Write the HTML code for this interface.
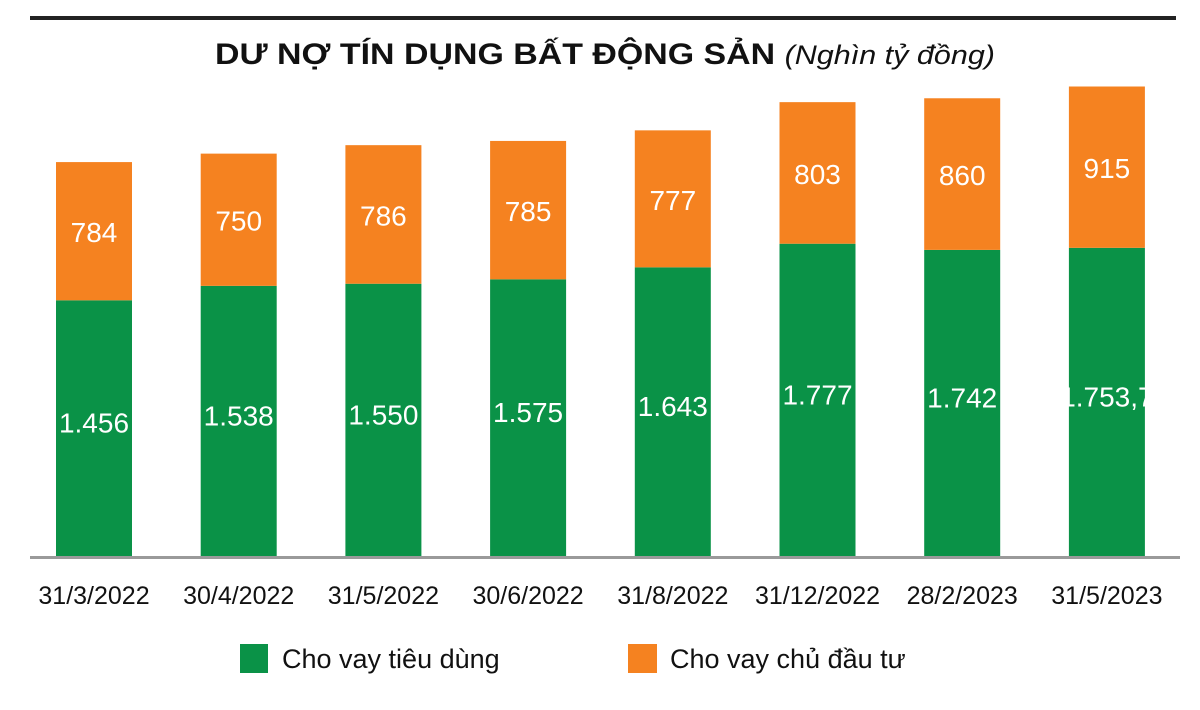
<!DOCTYPE html>
<html><head><meta charset="utf-8">
<style>
body{margin:0;background:#fff;width:1200px;height:705px;overflow:hidden;font-family:"Liberation Sans",sans-serif;}
</style></head>
<body>
<svg id="chart" width="1200" height="705" xmlns="http://www.w3.org/2000/svg">
<rect x="30" y="16" width="1146" height="4" fill="#222"/>
<text x="215" y="64" textLength="780" lengthAdjust="spacingAndGlyphs" font-family="Liberation Sans, sans-serif" font-size="30" font-weight="bold" fill="#111">DƯ NỢ TÍN DỤNG BẤT ĐỘNG SẢN <tspan font-weight="normal" font-style="italic" font-size="27">(Nghìn tỷ đồng)</tspan></text>
<g id="bars"></g>
<rect x="30" y="556" width="1150" height="3" fill="#9a9a9a"/>
<rect x="240" y="644" width="28" height="29" fill="#0a9247"/>
<text x="282" y="668" font-size="27" fill="#111">Cho vay tiêu dùng</text>
<rect x="628" y="644" width="29" height="29" fill="#f58220"/>
<text x="670" y="668" font-size="27" fill="#111">Cho vay chủ đầu tư</text>
</svg>
<script>
const categories=["31/3/2022","30/4/2022","31/5/2022","30/6/2022","31/8/2022","31/12/2022","28/2/2023","31/5/2023"];
const consumer=[1456,1538,1550,1575,1643,1777,1742,1753.7];
const developer=[784,750,786,785,777,803,860,915];
const consumerLabels=["1.456","1.538","1.550","1.575","1.643","1.777","1.742","1.753,7"];
const developerLabels=["784","750","786","785","777","803","860","915"];
const base=557, scale=0.1763, x0=94, step=144.7, bw=76;
const y=v=>base-v*scale;
const xc=i=>x0+i*step;
const g=document.getElementById('bars');
const NS="http://www.w3.org/2000/svg";
function mk(tag,attrs){const e=document.createElementNS(NS,tag);for(const k in attrs)e.setAttribute(k,attrs[k]);return e;}
categories.forEach((c,i)=>{
  const cx=xc(i);
  const gt=y(consumer[i]), ot=y(consumer[i]+developer[i]);
  const r1=mk('rect',{x:cx-bw/2,y:gt,width:bw,height:base-gt,fill:'#0a9247'});
  
  
  g.appendChild(r1);
  const r2=mk('rect',{x:cx-bw/2,y:ot,width:bw,height:gt-ot,fill:'#f58220'});
  
  
  g.appendChild(r2);
  const t1=mk('text',{x:cx,y:(gt+base)/2+4,'text-anchor':'middle','font-size':'28',fill:'#fff'});
  t1.textContent=consumerLabels[i];
  
  
  g.appendChild(t1);
  const t2=mk('text',{x:cx,y:(ot+gt)/2+11,'text-anchor':'middle','font-size':'28',fill:'#fff'});
  t2.textContent=developerLabels[i];
  
  
  g.appendChild(t2);
  const t3=mk('text',{x:cx,y:604,'text-anchor':'middle','font-size':'25',fill:'#111'});
  t3.textContent=c;
  
  
  g.appendChild(t3);
});
</script>
</body></html>
